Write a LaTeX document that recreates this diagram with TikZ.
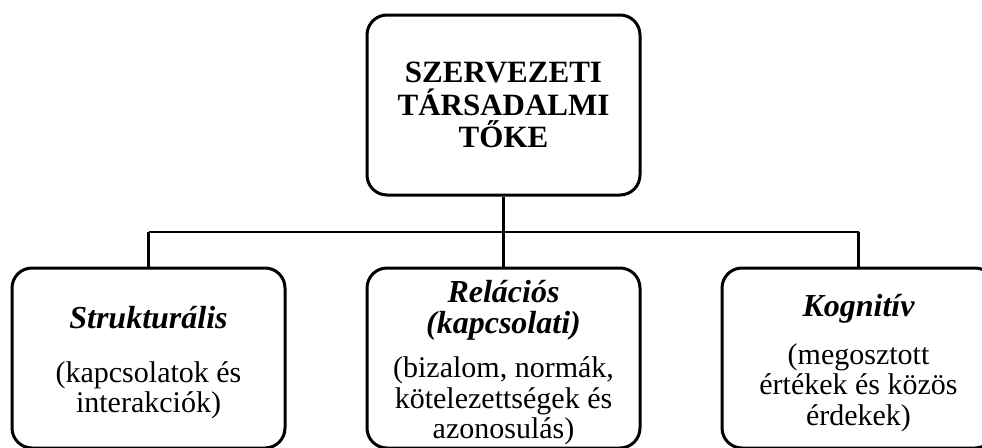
\documentclass[tikz,border=0pt]{standalone}
\usepackage{fontspec}
\setmainfont{Liberation Serif}
\begin{document}
\begin{tikzpicture}[x=1pt,y=1pt,
  box/.style={draw=black, line width=3pt, rounded corners=20pt, minimum width=273pt,
    minimum height=180pt, align=center, inner sep=0pt, fill=white},
  btext/.style={font=\fontsize{30}{30.5}\selectfont},
  ttext/.style={font=\fontsize{31}{32.5}\selectfont\bfseries},
  conn/.style={draw=black, line width=2.5pt}]
\newcommand{\hd}[1]{{\fontsize{32}{30.5}\selectfont\bfseries\itshape #1}}
\useasboundingbox (0,0) rectangle (982,-447);
\node[box, ttext] (top) at (503.5,-105) {SZERVEZETI\\TÁRSADALMI\\TŐKE};
\node[box, btext] (left) at (148.5,-358) {\rule{0pt}{32pt}\hd{Strukturális}\\[23pt](kapcsolatok és\\interakciók)};
\node[box, btext] (mid) at (503.5,-358) {\rule{0pt}{32pt}\hd{Relációs}\\\hd{(kapcsolati)}\\[14pt](bizalom, normák,\\kötelezettségek és\\azonosulás)};
\node[box, btext] (right) at (858.5,-358) {\rule{0pt}{32pt}\hd{Kognitív}\\[17pt](megosztott\\értékek és közös\\érdekek)};
\coordinate (busL) at (148.5,-232);
\coordinate (busR) at (858.5,-232);
\draw[conn] (busL) -- (busR);
\draw[conn] (top.south) -- (mid.north);
\draw[conn] (busL) -- (left.north);
\draw[conn] (busR) -- (right.north);
\end{tikzpicture}
\end{document}
